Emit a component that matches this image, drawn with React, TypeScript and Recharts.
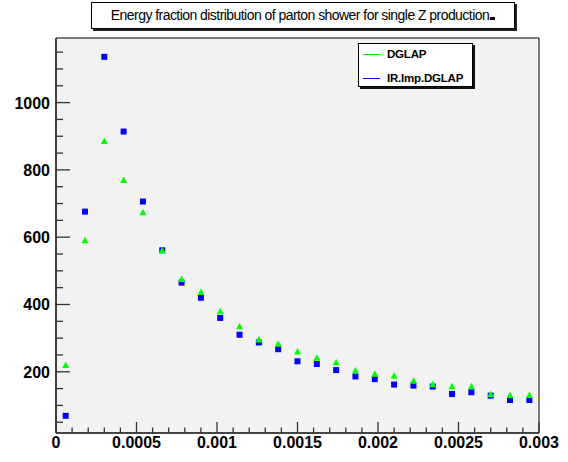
import { ScatterChart, Scatter, XAxis, YAxis, ReferenceArea } from 'recharts'

// bin centres (bin width 0.00012) and contents
const binCenters = [
  0.00006, 0.00018, 0.0003, 0.00042, 0.00054, 0.00066, 0.00078, 0.0009, 0.00102, 0.00114,
  0.00126, 0.00138, 0.0015, 0.00162, 0.00174, 0.00186, 0.00198, 0.0021, 0.00222, 0.00234,
  0.00246, 0.00258, 0.0027, 0.00282, 0.00294,
]
const dglap = [
  220, 591, 886, 770, 674, 561, 476, 437, 380, 335,
  296, 283, 260, 242, 228, 204, 194, 188, 173, 163,
  157, 157, 133, 130, 131,
]
const irImpDglap = [
  69, 676, 1136, 914, 706, 561, 465, 420, 360, 310,
  287, 267, 231, 223, 205, 186, 178, 162, 159, 156,
  134, 139, 129, 116, 116,
]

const xTicks = [
  0, 0.0001, 0.0002, 0.0003, 0.0004, 0.0005, 0.0006, 0.0007, 0.0008, 0.0009, 0.001,
  0.0011, 0.0012, 0.0013, 0.0014, 0.0015, 0.0016, 0.0017, 0.0018, 0.0019, 0.002,
  0.0021, 0.0022, 0.0023, 0.0024, 0.0025, 0.0026, 0.0027, 0.0028, 0.0029, 0.003,
]
const xLabelled = [0, 0.0005, 0.001, 0.0015, 0.002, 0.0025, 0.003]
const yTicks = [
  50, 100, 150, 200, 250, 300, 350, 400, 450, 500, 550, 600,
  650, 700, 750, 800, 850, 900, 950, 1000, 1050, 1100, 1150,
]
const yLabelled = [200, 400, 600, 800, 1000]

const X_DOMAIN: [number, number] = [0, 0.003]
const Y_DOMAIN: [number, number] = [18, 1192]

const blueData = binCenters.map((x, i) => ({ x, y: irImpDglap[i] }))
const greenData = binCenters.map((x, i) => ({ x, y: dglap[i] }))

const axisFont = {
  fontFamily: '"Liberation Sans", Arial, Helvetica, sans-serif',
  fontWeight: 700,
  fontSize: 16,
  fill: '#000',
}

const XTick = (props: any) => {
  const { x, y, payload } = props
  const v = payload.value as number
  const major = xLabelled.some((m) => Math.abs(m - v) < 1e-9)
  return (
    <g>
      <line x1={x} x2={x} y1={y} y2={y - (major ? 11 : 5.5)} stroke="#333" strokeWidth={1.3} />
      {major && (
        <text x={x} y={y + 15} textAnchor="middle" {...axisFont}>
          {String(v)}
        </text>
      )}
    </g>
  )
}

const YTick = (props: any) => {
  const { x, y, payload } = props
  const v = payload.value as number
  const major = yLabelled.includes(v)
  return (
    <g>
      <line x1={x} x2={x + (major ? 14 : 7)} y1={y} y2={y} stroke="#333" strokeWidth={1.3} />
      {major && (
        <text x={x - 6} y={y + 6} textAnchor="end" {...axisFont}>
          {v}
        </text>
      )}
    </g>
  )
}

const square = (p: any) => <rect x={p.cx - 3} y={p.cy - 3} width={6} height={6} fill="#0000ff" />
const triangle = (p: any) => (
  <polygon points={`${p.cx - 3.5},${p.cy + 3} ${p.cx + 3.5},${p.cy + 3} ${p.cx},${p.cy - 3.5}`} fill="#00ff00" />
)

export default function App() {
  return (
    <div style={{ position: 'absolute', left: 0, top: 0, width: 568, height: 462, background: '#fff' }}>
      <ScatterChart width={568} height={462} margin={{ top: 38, right: 29, bottom: 28, left: 55 }}>
        <ReferenceArea
          x1={X_DOMAIN[0]} x2={X_DOMAIN[1]} y1={Y_DOMAIN[0]} y2={Y_DOMAIN[1]}
          fill="#f2f2f2" fillOpacity={1} stroke="#000" strokeWidth={1} ifOverflow="visible"
        />
        <XAxis
          type="number" dataKey="x" domain={X_DOMAIN} ticks={xTicks} interval={0}
          height={1} tickSize={0} tickMargin={0} tickLine={false}
          axisLine={{ stroke: '#333', strokeWidth: 1.6 }} tick={<XTick />}
          allowDataOverflow
        />
        <YAxis
          type="number" dataKey="y" domain={Y_DOMAIN} ticks={yTicks} interval={0}
          width={1} tickSize={0} tickMargin={0} tickLine={false}
          axisLine={{ stroke: '#333', strokeWidth: 1.6 }} tick={<YTick />}
          allowDataOverflow
        />
        <Scatter data={blueData} shape={square} isAnimationActive={false} />
        <Scatter data={greenData} shape={triangle} isAnimationActive={false} />
      </ScatterChart>

      <div style={{
        position: 'absolute', left: 91, top: 2, width: 422, height: 25,
        border: '1px solid #000', background: '#fff', boxShadow: '2px 2px 0 #222',
        fontFamily: '"Liberation Sans", Arial, Helvetica, sans-serif', fontSize: 14,
        letterSpacing: -0.55, lineHeight: '25px', textAlign: 'center', color: '#000',
      }}>
        Energy fraction distribution of parton shower for single Z production
        <span style={{ display: 'inline-block', width: 5, height: 3, background: '#000', marginLeft: 1 }} />
      </div>

      <div style={{
        position: 'absolute', left: 358, top: 43, width: 113, height: 42,
        border: '1px solid #000', background: '#fff', boxShadow: '2px 2px 0 #111',
        fontFamily: '"Liberation Sans", Arial, Helvetica, sans-serif', fontSize: 11.5,
        fontWeight: 700, color: '#000',
      }}>
        {[
          { name: 'DGLAP', color: '#00ee00' },
          { name: 'IR.Imp.DGLAP', color: '#0000ff' },
        ].map((s, i) => (
          <div key={s.name} style={{ position: 'absolute', left: 4, top: 4 + i * 24, height: 12, display: 'flex', alignItems: 'center' }}>
            <span style={{ display: 'inline-block', width: 17, height: 1, background: s.color, marginRight: 7 }} />
            <span style={{ letterSpacing: -0.2 }}>{s.name}</span>
          </div>
        ))}
      </div>
    </div>
  )
}
